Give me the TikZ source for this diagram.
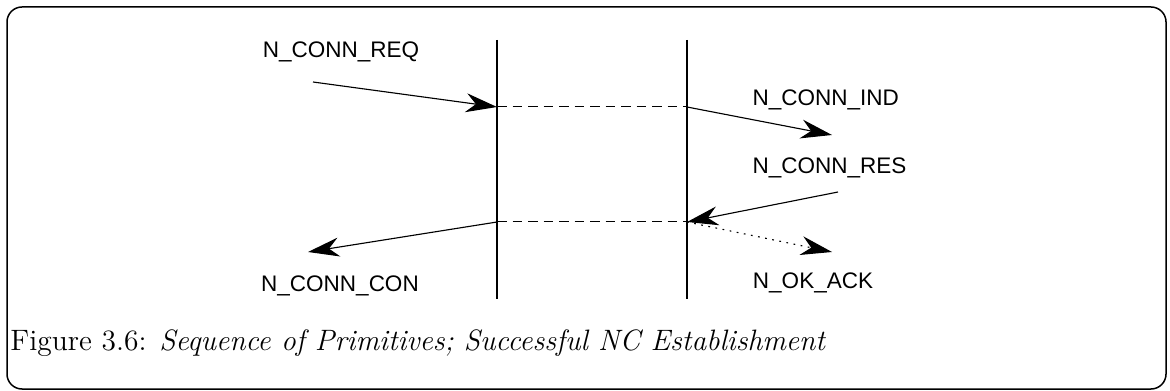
\documentclass[tikz,border=0pt]{standalone}
\usepackage{fontspec}
\newfontfamily\primfont{Liberation Sans}
\usetikzlibrary{arrows.meta,positioning}

\begin{document}
\begin{tikzpicture}[x=0.4pt,y=-0.4pt,
    prim/.style={font=\primfont\fontsize{9}{10}\selectfont, inner sep=0pt},
    msg/.style={-{Stealth[length=12.5pt,width=7.6pt,inset=4pt]}, line width=0.45pt},
    life/.style={line width=0.8pt},
    link/.style={dash pattern=on 3.8pt off 2.4pt, line width=0.4pt}]
    \useasboundingbox (0,0) rectangle (1170,391);
    % outer frame
    \draw[line width=0.6pt, rounded corners=6pt] (7,7) rectangle (1166,389);

    % the two service boundaries
    \draw[life] (497,40) coordinate (lt) -- (497,299) coordinate (lb);
    \draw[life] (687,40) coordinate (rt) -- (687,299) coordinate (rb);
    \coordinate (l1) at (497,107);
    \coordinate (r1) at (687,107);
    \coordinate (l2) at (497,222);
    \coordinate (r2) at (687,222);
    \draw[link] (l1) -- (r1);
    \draw[link] (l2) -- (r2);

    % primitives
    \node[prim] (req) at (341,52) {N\_CONN\_REQ};
    \node[prim, anchor=west] (ind) at (752,100) {N\_CONN\_IND};
    \node[prim, anchor=west] (res) at (752,168) {N\_CONN\_RES};
    \node[prim] (con) at (340,286) {N\_CONN\_CON};
    \node[prim] (ack) at (813,283) {N\_OK\_ACK};

    \coordinate (reqs) at (313,82);
    \coordinate (inde) at (832,135);
    \coordinate (ress) at (838,192);
    \coordinate (cone) at (308,252);
    \coordinate (acke) at (832,252);

    \draw[msg] (reqs) -- (l1);
    \draw[msg] (r1) -- (inde);
    \draw[msg] (ress) -- (r2);
    \draw[msg] (l2) -- (cone);
    \draw[msg, dash pattern=on 0.7pt off 2.2pt] (r2) -- (acke);

    % caption
    \node[anchor=base west, inner sep=0pt, font=\fontsize{11.8}{14}\selectfont] (cap) at (10,351)
        {Figure 3.6: \textit{Sequence of Primitives; Successful NC Establishment}};
\end{tikzpicture}
\end{document}
